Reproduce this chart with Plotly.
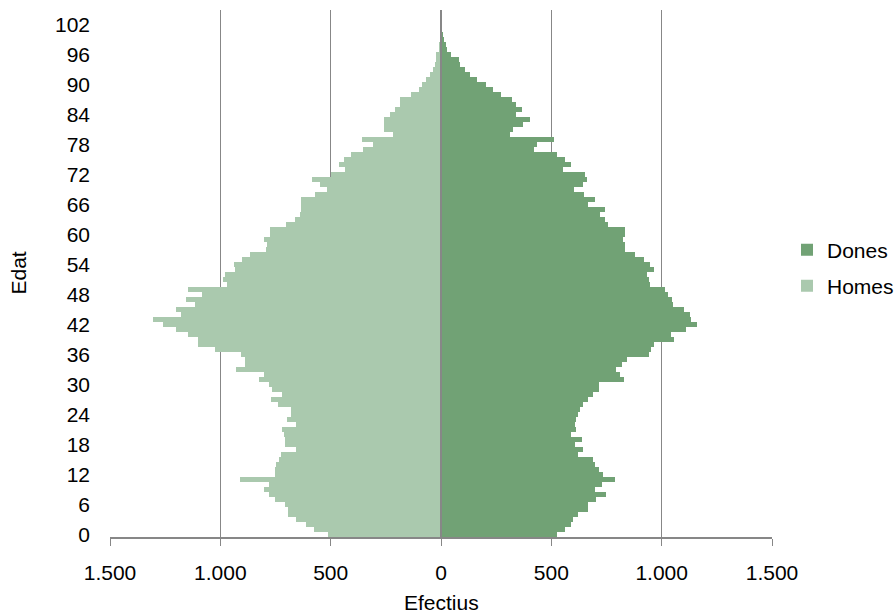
import plotly.graph_objects as go

ages = list(range(0, 101))

homes = [512, 577, 610, 656, 694, 694, 709, 754, 781, 800,
         778, 913, 751, 751, 747, 736, 724, 657, 706, 706,
         713, 721, 657, 698, 680, 680, 739, 769, 721, 766,
         778, 827, 800, 929, 890, 890, 905, 1026, 1102, 1102,
         1147, 1201, 1262, 1307, 1177, 1201, 1117, 1156, 1081, 1147,
         972, 990, 978, 932, 937, 902, 864, 792, 789, 801,
         777, 777, 703, 660, 638, 633, 633, 633, 570, 517,
         550, 584, 499, 434, 464, 441, 407, 354, 310, 358,
         218, 257, 257, 257, 233, 207, 184, 184, 136, 101,
         86, 67, 48, 36, 26, 21, 21, 8, 5, 3, 2]

dones = [526, 560, 590, 598, 620, 665, 665, 703, 747, 700,
         730, 787, 732, 715, 700, 688, 619, 643, 605, 639,
         590, 611, 606, 611, 619, 631, 642, 664, 690, 715,
         715, 828, 813, 795, 818, 843, 941, 952, 967, 1055,
         1044, 1111, 1160, 1134, 1129, 1103, 1051, 1048, 1027, 1017,
         946, 942, 932, 967, 947, 918, 879, 836, 833, 826,
         834, 834, 758, 745, 719, 744, 665, 699, 647, 601,
         645, 662, 652, 555, 589, 560, 524, 423, 433, 510,
         312, 325, 373, 403, 338, 368, 338, 323, 271, 237,
         202, 161, 131, 108, 85, 81, 45, 29, 21, 14, 8]

x_tickvals = [-1500, -1000, -500, 0, 500, 1000, 1500]
x_ticktext = ["1.500", "1.000", "500", "0", "500", "1.000", "1.500"]
y_tickvals = list(range(0, 103, 6))

DARK = "#71A275"
LIGHT = "#AAC9AE"
GRID = "#878787"
FONT = "Liberation Sans, Arial, sans-serif"
FS = 21

fig = go.Figure()
fig.add_trace(go.Bar(
    y=ages, x=dones, orientation="h", name="Dones", legend="legend",
    marker=dict(color=DARK, line=dict(width=0)), width=1,
))
fig.add_trace(go.Bar(
    y=ages, x=[-v for v in homes], orientation="h", name="Homes", legend="legend2",
    marker=dict(color=LIGHT, line=dict(width=0)), width=1,
))

legend_common = dict(xref="container", yref="container", xanchor="left",
                     yanchor="middle", font=dict(size=FS),
                     bgcolor="rgba(0,0,0,0)", borderwidth=0)

fig.update_layout(
    width=896, height=614,
    margin=dict(l=110, r=124, t=10, b=77, autoexpand=False),
    paper_bgcolor="white", plot_bgcolor="white",
    barmode="relative", bargap=0,
    font=dict(family=FONT, size=FS, color="#000000"),
    showlegend=True,
    legend=dict(x=787 / 896, y=1 - 250 / 614, **legend_common),
    legend2=dict(x=787 / 896, y=1 - 286 / 614, **legend_common),
    xaxis=dict(
        range=[-1500, 1500], tickvals=x_tickvals, ticktext=x_ticktext,
        showgrid=True, gridcolor=GRID, gridwidth=1.3,
        zeroline=False,
        showline=True, linecolor=GRID, linewidth=2,
        ticks="outside", ticklen=7, tickcolor=GRID, tickwidth=1.3,
        ticklabelstandoff=9,
        tickfont=dict(size=FS),
        fixedrange=True,
    ),
    yaxis=dict(
        range=[-0.5, 105], tickvals=y_tickvals,
        showgrid=False, zeroline=False, showline=False, ticks="",
        ticklabelstandoff=19,
        tickfont=dict(size=FS),
        fixedrange=True,
    ),
    shapes=[dict(type="line", xref="x", yref="paper", x0=0, x1=0, y0=0, y1=1,
                 line=dict(color=GRID, width=2), layer="above")],
    annotations=[
        dict(text="Edat", xref="paper", yref="paper", x=(18 - 110) / 662, y=0.5,
             textangle=-90, showarrow=False, font=dict(size=FS),
             xanchor="center", yanchor="middle"),
        dict(text="Efectius", xref="paper", yref="paper", x=0.5, y=-0.125,
             showarrow=False, font=dict(size=FS),
             xanchor="center", yanchor="middle"),
    ],
)

fig.write_html("out.html")
